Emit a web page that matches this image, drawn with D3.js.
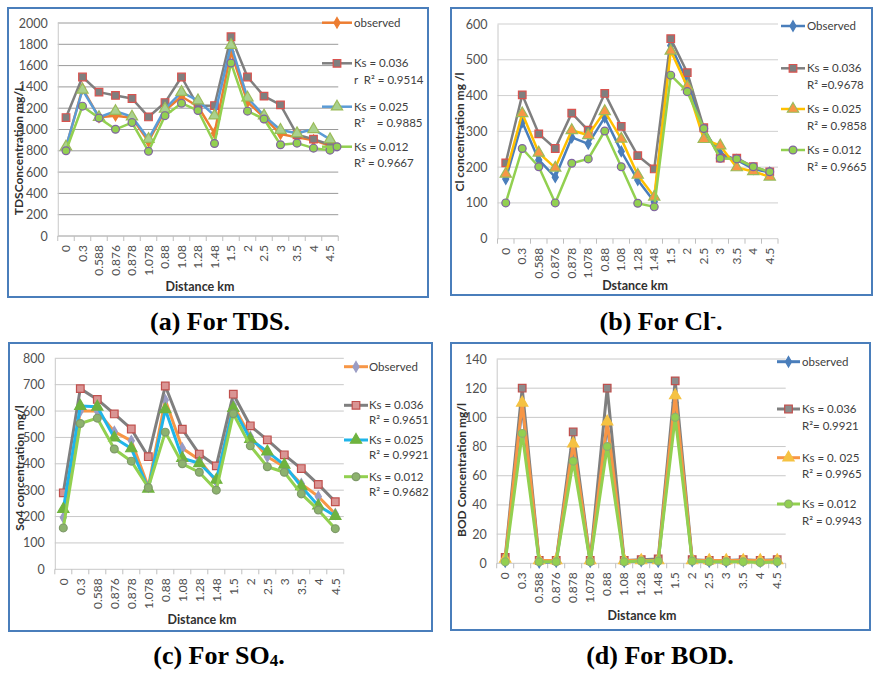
<!DOCTYPE html>
<html>
<head>
<meta charset="utf-8">
<script src="https://cdn.jsdelivr.net/npm/d3@7"></script>
<style>
  body { margin: 0; background: #fff; }
  svg text.chart { font-family: Lato, "Open Sans", sans-serif; }
</style>
</head>
<body>
<svg id="fig" width="874" height="673"></svg>
<script>
// distance categories (same for all four panels)
const categories = ['0', '0.3', '0.588', '0.876', '0.878', '1.078', '0.88', '1.08', '1.28', '1.48', '1.5', '2', '2.5', '3', '3.5', '4', '4.5'];

// (a) TDS
const tdsObserved = [830, 1385, 1115, 1130, 1110, 888, 1178, 1310, 1216, 964, 1729, 1257, 1115, 957, 926, 900, 847];
const tdsKs036 = [1112, 1493, 1351, 1320, 1291, 1118, 1253, 1493, 1220, 1225, 1871, 1493, 1313, 1231, 951, 910, 857];
const tdsKs025 = [838, 1373, 1115, 1172, 1120, 910, 1194, 1351, 1272, 1130, 1792, 1298, 1130, 995, 964, 1002, 907];
const tdsKs012 = [800, 1219, 1108, 1002, 1065, 795, 1130, 1247, 1178, 869, 1625, 1172, 1099, 857, 872, 825, 806];

// (b) Cl
const clObserved = [167, 326, 220, 172, 283, 265, 339, 244, 164, 103, 540, 440, 300, 238, 220, 195, 185];
const clKs036 = [212, 402, 293, 252, 351, 303, 406, 314, 232, 195, 559, 464, 310, 225, 225, 201, 187];
const clKs025 = [181, 350, 240, 198, 303, 289, 356, 279, 178, 117, 525, 425, 278, 260, 199, 188, 173];
const clKs012 = [100, 252, 201, 100, 211, 223, 301, 201, 99, 89, 457, 411, 308, 225, 223, 201, 187];

// (c) SO4
const so4Observed = [196, 600, 600, 522, 487, 313, 642, 459, 415, 332, 623, 503, 427, 389, 324, 276, 210];
const so4Ks036 = [290, 685, 644, 589, 532, 427, 695, 531, 437, 392, 664, 544, 491, 434, 382, 322, 256];
const so4Ks025 = [228, 619, 616, 499, 458, 305, 606, 421, 402, 339, 611, 493, 446, 396, 314, 241, 202];
const so4Ks012 = [157, 553, 573, 456, 410, 310, 520, 400, 368, 300, 590, 468, 389, 368, 286, 225, 154];

// (d) BOD
const bodObserved = [1, 108, 0.5, 1, 78, 1, 95, 1, 1.5, 1, 110, 1.5, 1, 1, 1.5, 1, 1];
const bodKs036 = [4, 120, 2, 2, 90, 2, 120, 2, 2.5, 3, 125, 2.5, 2, 2, 2.5, 2, 2.5];
const bodKs025 = [3, 110, 2, 2, 82, 2, 97, 2, 2, 2, 115, 2, 2, 2, 2, 2, 2];
const bodKs012 = [1, 89, 1, 1, 70, 1, 80, 1, 1.5, 1.5, 100, 1.5, 1, 1, 1, 0.5, 1];

const svg = d3.select('#fig');
const SERIF = '"Times New Roman", "Liberation Serif", Times, "DejaVu Serif", serif';

const symbolOf = {
  diamond: d3.symbolDiamond,
  square: d3.symbolSquare,
  triangle: d3.symbolTriangle,
  circle: d3.symbolCircle,
};
const symbolSize = { diamond: 32, square: 58, triangle: 55, circle: 48 };

function drawMarker(g, type, cx, cy, s) {
  g.append('path')
    .attr('d', d3.symbol().type(symbolOf[type]).size(symbolSize[type])())
    .attr('transform', `translate(${cx},${cy})`)
    .attr('fill', s.fill)
    .attr('stroke', s.stroke)
    .attr('stroke-width', 1.2);
}

function drawPanel(p) {
  const g = svg.append('g');
  const { plot } = p;

  g.append('rect')
    .attr('x', p.box[0]).attr('y', p.box[1])
    .attr('width', p.box[2]).attr('height', p.box[3])
    .attr('fill', '#fff')
    .attr('stroke', '#4a7ebb')
    .attr('stroke-width', 2);

  const x = d3.scaleBand()
    .domain(d3.range(categories.length))
    .range([plot.left, plot.right]);
  const y = d3.scaleLinear()
    .domain([0, p.yMax])
    .range([plot.bottom, plot.top]);
  const cx = i => x(i) + x.bandwidth() / 2;

  const ticks = d3.range(0, p.yMax + p.yStep / 2, p.yStep);

  g.selectAll('.grid')
    .data(ticks)
    .join('line')
    .attr('x1', plot.left).attr('x2', plot.right)
    .attr('y1', d => y(d)).attr('y2', d => y(d))
    .attr('stroke', p.gridColor)
    .attr('stroke-width', 1);

  const yAxis = g.append('g')
    .attr('transform', `translate(${plot.left},0)`)
    .call(d3.axisLeft(y).tickValues(ticks).tickFormat(d3.format('d')).tickSize(0).tickPadding(10));
  yAxis.select('.domain').attr('stroke', '#c8c8c8');
  yAxis.selectAll('text')
    .attr('class', 'chart')
    .attr('font-size', 12.5)
    .attr('fill', '#505050');

  const xAxis = g.append('g')
    .attr('transform', `translate(0,${plot.bottom})`)
    .call(d3.axisBottom(x).tickSize(0).tickFormat(i => categories[i]));
  xAxis.select('.domain').remove();
  xAxis.selectAll('text')
    .attr('class', 'chart')
    .attr('transform', 'rotate(-90)')
    .attr('text-anchor', 'end')
    .attr('x', -9)
    .attr('y', 0)
    .attr('dy', '0.35em')
    .attr('font-size', 12)
    .attr('fill', '#505050');

  // tick marks between categories
  g.selectAll('.xtick')
    .data(d3.range(categories.length + 1))
    .join('line')
    .attr('x1', i => plot.left + i * x.step())
    .attr('x2', i => plot.left + i * x.step())
    .attr('y1', plot.bottom)
    .attr('y2', plot.bottom + 5)
    .attr('stroke', '#bfbfbf');

  // axis titles
  g.append('text')
    .attr('class', 'chart')
    .attr('transform', `translate(${p.yTitle.x},${p.yTitle.y}) rotate(-90)`)
    .attr('text-anchor', 'middle')
    .attr('dy', '0.35em')
    .attr('font-size', 12)
    .attr('font-weight', 'bold')
    .attr('fill', '#303030')
    .text(p.yTitle.text);
  g.append('text')
    .attr('class', 'chart')
    .attr('x', p.xTitle.x).attr('y', p.xTitle.y)
    .attr('text-anchor', 'middle')
    .attr('dy', '0.35em')
    .attr('font-size', 12.5)
    .attr('font-weight', 'bold')
    .attr('fill', '#303030')
    .text(p.xTitle.text);

  // series
  const line = d3.line().x((d, i) => cx(i)).y(d => y(d));
  p.series.forEach(s => {
    g.append('path')
      .datum(s.values)
      .attr('d', line)
      .attr('fill', 'none')
      .attr('stroke', s.color)
      .attr('stroke-width', p.lineWidth)
      .attr('stroke-linejoin', 'round');
    s.values.forEach((v, i) => drawMarker(g, s.marker, cx(i), y(v), s));
  });

  // legend
  const lg = p.legend;
  p.series.forEach((s, k) => {
    const ly = lg.ys[k];
    g.append('line')
      .attr('x1', lg.x1).attr('x2', lg.x2)
      .attr('y1', ly).attr('y2', ly)
      .attr('stroke', s.color)
      .attr('stroke-width', p.lineWidth);
    drawMarker(g, s.marker, (lg.x1 + lg.x2) / 2, ly, s);
    s.label.forEach((t, j) => {
      g.append('text')
        .attr('class', 'chart')
        .attr('x', lg.tx)
        .attr('y', ly + j * lg.dy)
        .attr('dy', '0.35em')
        .attr('font-size', 11.5)
        .attr('fill', '#404040')
        .style('white-space', 'pre')
        .text(t);
    });
  });

  // caption below the box
  const cap = svg.append('text')
    .attr('x', p.caption.x).attr('y', p.caption.y)
    .attr('text-anchor', 'middle')
    .attr('font-size', 26)
    .attr('font-weight', 'bold')
    .attr('fill', '#000')
    .style('font-family', SERIF);
  p.caption.parts.forEach(part => {
    const t = cap.append('tspan').style('font-family', SERIF).text(part.text);
    if (part.shift) {
      t.attr('font-size', 17).attr('baseline-shift', part.shift);
    }
  });
}

drawPanel({
  box: [8, 8, 420, 289],
  plot: { left: 57.75, right: 338.25, top: 23, bottom: 236 },
  yMax: 2000, yStep: 200,
  gridColor: '#9a9a9a',
  lineWidth: 2.5,
  yTitle: { x: 19, y: 150, text: 'TDSConcentration mg/L' },
  xTitle: { x: 200, y: 287, text: 'Distance km' },
  series: [
    { values: tdsObserved, color: '#ed7d31', marker: 'diamond', fill: '#ed7d31', stroke: '#ed7d31', label: ['observed'] },
    { values: tdsKs036, color: '#7f7f7f', marker: 'square', fill: '#7f7f7f', stroke: '#d9534f', label: ['Ks = 0.036', 'r  R² = 0.9514'] },
    { values: tdsKs025, color: '#5b9bd5', marker: 'triangle', fill: '#a9d18e', stroke: '#9bbb59', label: ['Ks = 0.025', 'R²    = 0.9885'] },
    { values: tdsKs012, color: '#92d050', marker: 'circle', fill: '#92d050', stroke: '#8064a2', label: ['Ks = 0.012', 'R² = 0.9667'] },
  ],
  legend: { x1: 322, x2: 352, tx: 354, ys: [22.7, 63.3, 106.7, 146.7], dy: 16.7 },
  caption: { x: 220, y: 330, parts: [{ text: '(a) For TDS.' }] },
});

drawPanel({
  box: [451, 8, 421, 287],
  plot: { left: 497.5, right: 778, top: 24, bottom: 238.7 },
  yMax: 600, yStep: 100,
  gridColor: '#cfcfcf',
  lineWidth: 2.5,
  yTitle: { x: 460, y: 132, text: 'Cl concentration mg /l' },
  xTitle: { x: 635, y: 286, text: 'Dstance km' },
  series: [
    { values: clObserved, color: '#4a7ebb', marker: 'diamond', fill: '#4a7ebb', stroke: '#4a7ebb', label: ['Observed'] },
    { values: clKs036, color: '#7f7f7f', marker: 'square', fill: '#7f7f7f', stroke: '#d9534f', label: ['Ks = 0.036', 'R² =0.9678'] },
    { values: clKs025, color: '#ffc000', marker: 'triangle', fill: '#f79646', stroke: '#9bbb59', label: ['Ks = 0.025', 'R² = 0.9858'] },
    { values: clKs012, color: '#92d050', marker: 'circle', fill: '#92d050', stroke: '#8064a2', label: ['Ks = 0.012', 'R² = 0.9665'] },
  ],
  legend: { x1: 781, x2: 805, tx: 807, ys: [26, 68.3, 109, 150], dy: 16.5 },
  caption: { x: 661, y: 330, parts: [{ text: '(b) For Cl' }, { text: '-', shift: '8' }, { text: '.' }] },
});

drawPanel({
  box: [9, 343, 423, 288],
  plot: { left: 54.8, right: 343.8, top: 358.3, bottom: 569.3 },
  yMax: 800, yStep: 100,
  gridColor: '#c8c8c8',
  lineWidth: 3,
  yTitle: { x: 20, y: 468, text: 'So4 concentration mg/l' },
  xTitle: { x: 202, y: 620, text: 'Distance km' },
  series: [
    { values: so4Observed, color: '#f79646', marker: 'diamond', fill: '#9a9cc4', stroke: '#9a9cc4', label: ['Observed'] },
    { values: so4Ks036, color: '#7f7f7f', marker: 'square', fill: '#d99594', stroke: '#c0504d', label: ['Ks = 0.036', 'R² = 0.9651'] },
    { values: so4Ks025, color: '#1fb5ea', marker: 'triangle', fill: '#6fb33f', stroke: '#6fb33f', label: ['Ks = 0.025', 'R² = 0.9921'] },
    { values: so4Ks012, color: '#92d050', marker: 'circle', fill: '#8db26e', stroke: '#7f9a6a', label: ['Ks = 0.012', 'R² = 0.9682'] },
  ],
  legend: { x1: 344, x2: 368, tx: 369, ys: [366.7, 405.3, 440, 476.7], dy: 15 },
  caption: { x: 219, y: 664, parts: [{ text: '(c) For SO' }, { text: '4', shift: '-2' }, { text: '.' }] },
});

drawPanel({
  box: [451, 343, 419, 287],
  plot: { left: 496.7, right: 785.7, top: 359, bottom: 563.3 },
  yMax: 140, yStep: 20,
  gridColor: '#c8c8c8',
  lineWidth: 3,
  yTitle: { x: 461.5, y: 470, text: 'BOD Concentration mg/l' },
  xTitle: { x: 642, y: 616, text: 'Distance km' },
  series: [
    { values: bodObserved, color: '#4a7ebb', marker: 'diamond', fill: '#4a7ebb', stroke: '#4a7ebb', label: ['observed'] },
    { values: bodKs036, color: '#7f7f7f', marker: 'square', fill: '#8c8c8c', stroke: '#c0504d', label: ['Ks = 0.036', 'R²= 0.9921'] },
    { values: bodKs025, color: '#f79646', marker: 'triangle', fill: '#f5c242', stroke: '#f5c242', label: ['Ks = 0. 025', 'R² = 0.9965'] },
    { values: bodKs012, color: '#92d050', marker: 'circle', fill: '#92d050', stroke: '#8db26e', label: ['Ks = 0.012', 'R² = 0.9943'] },
  ],
  legend: { x1: 777, x2: 800, tx: 802, ys: [361.7, 409, 457.7, 504], dy: 16.5 },
  caption: { x: 660, y: 664, parts: [{ text: '(d) For BOD.' }] },
});
</script>
</body>
</html>
